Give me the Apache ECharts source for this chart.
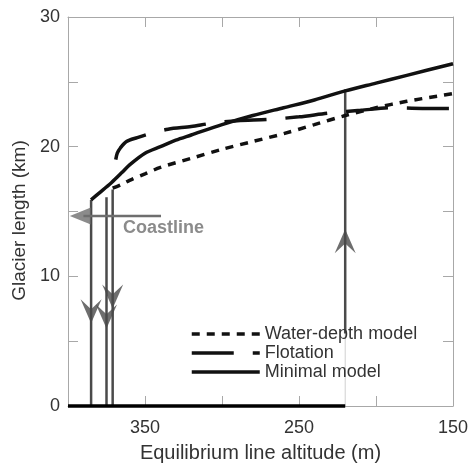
<!DOCTYPE html>
<html><head><meta charset="utf-8">
<script src="https://cdn.jsdelivr.net/npm/echarts@6/dist/echarts.min.js"></script>
<style>html,body{margin:0;padding:0;background:#fff}#c{width:469px;height:464px}</style>
</head><body><div id="c"></div>
<script>
// ---- data (ELA in m, glacier length in km) ----
const waterDepthEla = [371, 365, 360, 350, 340, 320, 300, 280, 260, 240, 220, 200, 180, 160, 150];
const waterDepthLen = [16.8, 17.1, 17.4, 17.9, 18.4, 19.1, 19.8, 20.4, 21.0, 21.7, 22.4, 23.0, 23.5, 23.9, 24.1];
const flotationEla = [369, 368, 366, 362, 355, 347, 335, 320, 307, 290, 270, 250, 230, 210, 190, 170, 150];
const flotationLen = [19.0, 19.5, 19.9, 20.4, 20.7, 21.0, 21.35, 21.55, 21.8, 22.0, 22.1, 22.3, 22.6, 22.8, 23.0, 22.95, 22.95];
const minimalEla = [385, 380, 372, 365, 360, 350, 340, 330, 320, 300, 280, 260, 240, 220, 200, 180, 150];
const minimalLen = [15.9, 16.4, 17.2, 18.0, 18.6, 19.5, 20.0, 20.5, 20.9, 21.7, 22.4, 23.0, 23.6, 24.3, 24.9, 25.5, 26.4];

// annotations (data units)
const downArrowEla = [385, 375, 371];
const downArrowTop = [15.9, 16.1, 16.7];
const downArrowHead = [7.3, 6.9, 8.45];
const upArrowEla = [220];
const upArrowTop = [24.4];
const upArrowBottom = [5.6];
const upArrowHead = [12.7];
const baseLineEla = [400, 220];
const baseLineLen = [0, 0];
const coastLen = 14.65;
const coastLineEla = [339.6, 390];
const coastHeadEla = 392;
const coastLabelPos = [364.3, 13.7];

const seriesNames = ['Water-depth model', 'Flotation', 'Minimal model'];
const xLabelValues = [350, 250, 150];
const yLabelValues = [0, 10, 20, 30];
const xTitle = 'Equilibrium line altitude (m)';
const yTitle = 'Glacier length (km)';
const coastText = 'Coastline';

const zip = (a, b) => a.map((v, i) => [v, b[i]]);
const FONT = '"Liberation Sans", Arial, Helvetica, sans-serif';
const axisGrey = '#a8a8a8';
const annGrey = '#4a4a4a';
const coastGrey = '#6e6e6e';
const ARROW = 'path://M10,0L20,22L10,13L0,22Z';

const chart = echarts.init(document.getElementById('c'));

const axisCommonX = {
  type: 'value', min: 150, max: 400, interval: 50, inverse: true,
  axisLine: {show: true, onZero: false, lineStyle: {color: axisGrey, width: 1}},
  axisTick: {show: true, inside: true, length: 10, lineStyle: {color: axisGrey}},
  splitLine: {show: false}
};
const axisCommonY = {
  type: 'value', min: 0, max: 30, interval: 5,
  axisLine: {show: true, onZero: false, lineStyle: {color: axisGrey, width: 1}},
  axisTick: {show: true, inside: true, length: 10, lineStyle: {color: axisGrey}},
  splitLine: {show: false}
};

const series = [];
const curveStyle = (type) => ({color: '#111', width: 3.5, type: type, cap: 'butt'});
series.push({name: seriesNames[0], type: 'line', data: zip(waterDepthEla, waterDepthLen), symbol: 'none', smooth: 0.3, lineStyle: curveStyle([8, 7]), itemStyle: {color: '#111'}, z: 5});
series.push({name: seriesNames[1], type: 'line', data: zip(flotationEla, flotationLen), symbol: 'none', smooth: 0.3, lineStyle: curveStyle([42, 19]), itemStyle: {color: '#111'}, z: 5});
series.push({name: seriesNames[2], type: 'line', data: zip(minimalEla, minimalLen), symbol: 'none', smooth: 0.3, lineStyle: curveStyle('solid'), itemStyle: {color: '#111'}, z: 5});

// down arrows
downArrowEla.forEach((e, i) => {
  series.push({type: 'line', data: [[e, downArrowTop[i]], [e, 0]], symbol: 'none', clip: false, silent: true,
    lineStyle: {color: annGrey, width: 2.5}, z: 3});
});
series.push({type: 'scatter', data: zip(downArrowEla, downArrowHead), symbol: ARROW, symbolSize: [21, 24], symbolRotate: 180,
  itemStyle: {color: annGrey}, silent: true, z: 4});
// up arrow
upArrowEla.forEach((e, i) => {
  series.push({type: 'line', data: [[e, upArrowTop[i]], [e, upArrowBottom[i]]], symbol: 'none', silent: true,
    lineStyle: {color: annGrey, width: 2.5}, z: 3});
  series.push({type: 'line', data: [[e, upArrowBottom[i]], [e, 0]], symbol: 'none', silent: true,
    lineStyle: {color: '#d0d0d0', width: 1}, z: 2});
});
series.push({type: 'scatter', data: zip(upArrowEla, upArrowHead), symbol: ARROW, symbolSize: [21, 24],
  itemStyle: {color: annGrey}, silent: true, z: 4});
// base line at zero
series.push({type: 'line', data: zip(baseLineEla, baseLineLen), symbol: 'none', clip: false, silent: true,
  lineStyle: {color: '#000', width: 3.5}, z: 6});
// coastline arrow
series.push({type: 'line', data: coastLineEla.map(e => [e, coastLen]), symbol: 'none', silent: true,
  lineStyle: {color: coastGrey, width: 2.5}, z: 3});
series.push({type: 'scatter', data: [[coastHeadEla, coastLen]], symbol: 'triangle', symbolSize: [17, 21], symbolRotate: 90,
  itemStyle: {color: coastGrey}, silent: true, z: 4});
series.push({type: 'scatter', data: [coastLabelPos], symbolSize: 0, silent: true, z: 4,
  label: {show: true, position: 'right', distance: 0, formatter: coastText, fontSize: 18, fontWeight: 'bold', color: coastGrey, fontFamily: FONT}});

chart.setOption({
  animation: false,
  backgroundColor: '#fff',
  grid: {left: 68, right: 16, top: 17, bottom: 58, outerBoundsMode: 'none', containLabel: false},
  xAxis: [
    Object.assign({}, axisCommonX, {position: 'bottom',
      axisLabel: {margin: 13, fontSize: 18, color: '#333', fontFamily: FONT, showMinLabel: true, showMaxLabel: true,
        formatter: v => xLabelValues.includes(v) ? String(v) : ''},
      name: xTitle, nameLocation: 'middle', nameGap: 37,
      nameTextStyle: {fontSize: 20, color: '#333', fontFamily: FONT}}),
    Object.assign({}, axisCommonX, {position: 'top', axisLabel: {show: false}})
  ],
  yAxis: [
    Object.assign({}, axisCommonY, {position: 'left',
      axisLabel: {margin: 8, fontSize: 18, color: '#333', fontFamily: FONT, showMinLabel: true, showMaxLabel: true,
        formatter: v => yLabelValues.includes(v) ? String(v) : ''},
      name: yTitle, nameLocation: 'middle', nameGap: 38, nameRotate: 90,
      nameTextStyle: {fontSize: 19, color: '#333', fontFamily: FONT, padding: [0, 18, 0, 0]}}),
    Object.assign({}, axisCommonY, {position: 'right', axisLabel: {show: false}})
  ],
  legend: {
    orient: 'vertical', left: 185, top: 320, itemWidth: 68, itemHeight: 14, itemGap: 1,
    data: seriesNames, lineStyle: {width: 3.5},
    itemStyle: {opacity: 0},
    textStyle: {fontSize: 18, color: '#333', fontFamily: FONT, padding: [0, 0, 0, 0]}
  },
  series: series
});
</script>
</body></html>
